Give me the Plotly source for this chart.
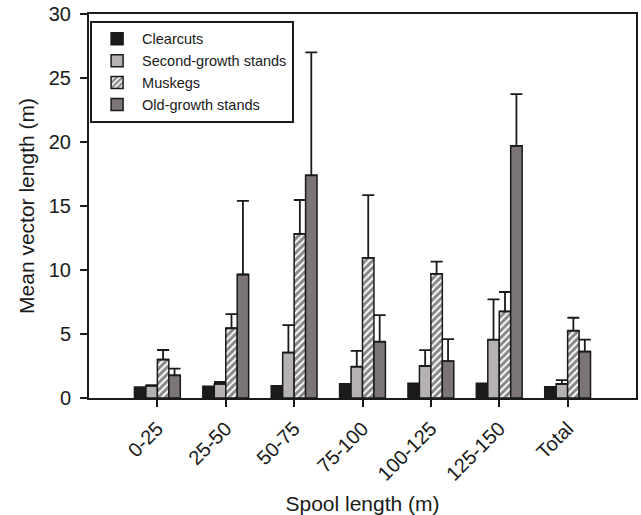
import plotly.graph_objects as go

categories = ["0-25", "25-50", "50-75", "75-100", "100-125", "125-150", "Total"]

clearcuts = [0.85, 0.92, 0.95, 1.12, 1.15, 1.15, 0.87]
clearcuts_err = [0, 0, 0, 0, 0, 0, 0]

second_growth = [0.95, 1.1, 3.55, 2.45, 2.5, 4.56, 1.1]
second_growth_err = [0.05, 0.15, 2.15, 1.23, 1.24, 3.14, 0.3]

muskegs = [3.0, 5.45, 12.83, 10.95, 9.7, 6.76, 5.26]
muskegs_err = [0.75, 1.1, 2.64, 4.9, 0.96, 1.52, 1.01]

old_growth = [1.77, 9.65, 17.4, 4.4, 2.88, 19.7, 3.63]
old_growth_err = [0.53, 5.75, 9.6, 2.07, 1.72, 4.04, 0.93]

x_idx = list(range(len(categories)))

outline = dict(color="#1a1a1a", width=1.5)

fig = go.Figure()

def add(name, vals, errs, marker):
    e = dict(type="data", symmetric=False, array=errs,
             arrayminus=[0] * len(errs), color="#1a1a1a",
             thickness=1.8, width=6, visible=any(v > 0 for v in errs))
    fig.add_trace(go.Bar(name=name, x=x_idx, y=vals, error_y=e, marker=marker))

add("Clearcuts", clearcuts, clearcuts_err,
    dict(color="#1c1a1a", line=outline))
add("Second-growth stands", second_growth, second_growth_err,
    dict(color="#b6b2b1", line=outline))
add("Muskegs", muskegs, muskegs_err,
    dict(color="white", line=outline,
         pattern=dict(shape="/", fgcolor="#111111", bgcolor="white",
                      size=5, solidity=0.6, fillmode="overlay")))
add("Old-growth stands", old_growth, old_growth_err,
    dict(color="#7b7675", line=outline))

font_family = "Liberation Sans, Arial, sans-serif"

fig.update_layout(
    width=641, height=515,
    margin=dict(l=89, r=3, t=14, b=114),
    paper_bgcolor="white", plot_bgcolor="white",
    barmode="group", bargap=0.33, bargroupgap=0,
    font=dict(family=font_family, color="#1a1a1a", size=20),
    showlegend=True,
    legend=dict(x=0.002, y=0.982, xanchor="left", yanchor="top",
                bgcolor="white", bordercolor="#1a1a1a", borderwidth=2,
                font=dict(size=14.5, family=font_family, color="#1a1a1a"),
                tracegroupgap=0, itemwidth=40),
    xaxis=dict(
        range=[-1, 7], tickmode="array", tickvals=x_idx, ticktext=categories,
        tickangle=-45, ticks="outside", ticklen=7, tickwidth=1.5,
        tickcolor="#1a1a1a", showline=True, linecolor="#1a1a1a", linewidth=2,
        mirror=True, showgrid=False, zeroline=False,
        tickfont=dict(size=20), ticklabelstandoff=2,
        title=dict(text="Spool length (m)", font=dict(size=21), standoff=12),
    ),
    yaxis=dict(
        range=[0, 30], tickvals=[0, 5, 10, 15, 20, 25, 30],
        ticks="outside", ticklen=7, tickwidth=1.5, tickcolor="#1a1a1a",
        showline=True, linecolor="#1a1a1a", linewidth=2, mirror=True,
        showgrid=False, zeroline=False, tickfont=dict(size=20),
        ticklabelstandoff=5,
        title=dict(text="Mean vector length (m)", font=dict(size=21), standoff=8),
    ),
)

fig.write_html("out.html")
